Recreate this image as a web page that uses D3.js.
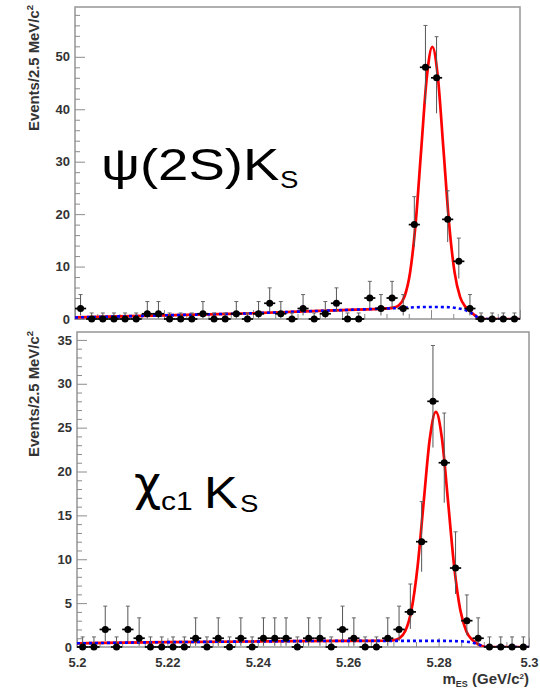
<!DOCTYPE html>
<html>
<head>
<meta charset="utf-8">
<script src="https://cdn.jsdelivr.net/npm/d3@7"></script>
<style>
  html, body { margin: 0; padding: 0; background: #fff; }
  svg { display: block; }
</style>
</head>
<body>
<svg id="fig" width="540" height="688"></svg>
<script>
// m_ES bin centres (2.5 MeV bins from 5.20 to 5.30 GeV/c^2)
const massBins = [5.20125,5.20375,5.20625,5.20875,5.21125,5.21375,5.21625,5.21875,5.22125,5.22375,
                  5.22625,5.22875,5.23125,5.23375,5.23625,5.23875,5.24125,5.24375,5.24625,5.24875,
                  5.25125,5.25375,5.25625,5.25875,5.26125,5.26375,5.26625,5.26875,5.27125,5.27375,
                  5.27625,5.27875,5.28125,5.28375,5.28625,5.28875,5.29125,5.29375,5.29625,5.29875];

// Events per bin
const psiCounts = [2,0,0,0,0,0,1,1,0,0, 0,1,0,0,1,0,1,3,1,0, 2,0,1,3,0,0,4,2,4,2, 18,48,46,19,11,2,0,0,0,0];
const chiCounts = [0,0,2,0,2,1,0,0,0,0, 1,0,1,0,1,0,1,1,1,0, 1,1,0,2,1,0,0,1,2,4, 12,28,21,9,3,1,0,0,0,0];

// Fit curves: total (signal + background) and background-only, psi(2S) Ks
const psiFitMass = [5.200,5.210,5.220,5.230,5.240,5.250,5.260,5.2703,5.27155,5.2728,5.27405,5.2753,5.27655,
                    5.2778,5.27905,5.2803,5.28155,5.2828,5.28405,5.2853,5.28655,5.2878,5.28905,5.2903,5.2908,5.2911,5.300];
const psiFitVal  = [0.3,0.5,0.7,0.9,1.1,1.4,1.7,2.03,2.16,2.63,4.30,8.87,18.30,
                    32.31,46.04,51.9,46.05,32.34,18.34,8.89,4.18,2.27,1.26,0.42,0.1,0,0];
const psiBkgMass = [5.200,5.210,5.220,5.230,5.240,5.250,5.260,5.270,5.280,5.284,5.286,5.2875,5.2885,5.2895,5.2903,5.2908,5.2911,5.300];
const psiBkgVal  = [0.3,0.5,0.7,0.9,1.1,1.4,1.7,2.0,2.3,2.25,2.05,1.75,1.4,0.9,0.4,0.1,0,0];

// Fit curves, chi_c1 Ks
const chiFitMass = [5.200,5.220,5.240,5.260,5.2686,5.26995,5.2713,5.27265,5.274,5.27535,5.2767,5.27805,
                    5.2794,5.28075,5.2821,5.28345,5.2848,5.28615,5.2875,5.28885,5.2902,5.2906,5.300];
const chiFitVal  = [0.42,0.55,0.63,0.7,0.71,0.76,0.99,1.85,4.23,9.17,16.53,23.73,
                    26.8,23.73,16.53,9.17,4.21,1.77,0.79,0.28,0.01,0,0];
const chiBkgMass = [5.200,5.220,5.240,5.260,5.280,5.285,5.287,5.288,5.289,5.2897,5.2903,5.300];
const chiBkgVal  = [0.42,0.55,0.63,0.7,0.7,0.65,0.55,0.42,0.25,0.1,0,0];

// Axis ticks and labels
const massTicks = [5.2, 5.22, 5.24, 5.26, 5.28, 5.3];
const massTickLabels = ["5.2", "5.22", "5.24", "5.26", "5.28", "5.3"];
const massMinorTicks = [5.205,5.21,5.215,5.225,5.23,5.235,5.245,5.25,5.255,5.265,5.27,5.275,5.285,5.29,5.295];
const psiYTicks = [0, 10, 20, 30, 40, 50];
const chiYTicks = [0, 5, 10, 15, 20, 25, 30, 35];

const BIN_HALF = 0.00125;
const FONT = "'Liberation Sans', Arial, Helvetica, sans-serif";

// 68% Poisson interval (Gehrels approximation; empty bins get the one-sided 1.148 limit)
function poissonInterval(n) {
  if (n === 0) return [0, 1.148];
  return [Math.max(0, n - Math.sqrt(n - 0.25)), n + Math.sqrt(n + 0.75) + 1];
}

const svg = d3.select("#fig");

const panels = [
  { id: "psi", counts: psiCounts, fitM: psiFitMass, fitV: psiFitVal, bkgM: psiBkgMass, bkgV: psiBkgVal,
    left: 75, right: 520, top: 7, bottom: 319, yMax: 59.5, yTicks: psiYTicks, yMinorStep: 2,
    xLabels: false, titleEnd: 5 },
  { id: "chi", counts: chiCounts, fitM: chiFitMass, fitV: chiFitVal, bkgM: chiBkgMass, bkgV: chiBkgVal,
    left: 77, right: 529, top: 332, bottom: 647, yMax: 35.9, yTicks: chiYTicks, yMinorStep: 1,
    xLabels: true, titleEnd: 331 }
];

panels.forEach(p => {
  const x = d3.scaleLinear().domain([5.2, 5.3]).range([p.left, p.right]);
  const y = d3.scaleLinear().domain([0, p.yMax]).range([p.bottom, p.top]);
  const g = svg.append("g");

  g.append("clipPath").attr("id", "clip-" + p.id)
    .append("rect").attr("x", p.left).attr("y", p.top)
    .attr("width", p.right - p.left).attr("height", p.bottom - p.top);

  // frame
  g.append("rect")
    .attr("x", p.left).attr("y", p.top)
    .attr("width", p.right - p.left).attr("height", p.bottom - p.top)
    .attr("fill", "none").attr("stroke", "#9c9c9c").attr("stroke-width", 1.6);

  // y axis: major ticks with labels, minor ticks
  const yMinor = d3.range(0, p.yMax, p.yMinorStep).filter(v => !p.yTicks.includes(v));
  g.append("g").attr("transform", `translate(${p.left},0)`)
    .call(d3.axisLeft(y).tickValues(yMinor).tickSize(-5).tickFormat(""))
    .call(a => a.select(".domain").remove())
    .call(a => a.selectAll("line").attr("stroke", "#8c8c8c"));
  g.append("g").attr("transform", `translate(${p.left},0)`)
    .call(d3.axisLeft(y).tickValues(p.yTicks).tickSize(-10).tickPadding(5).tickFormat(d3.format("d")))
    .call(a => a.select(".domain").remove())
    .call(a => a.selectAll("line").attr("stroke", "#8c8c8c"))
    .call(a => a.selectAll("text")
      .attr("font-family", FONT).attr("font-weight", "bold").attr("font-size", 13).attr("fill", "#333"));

  // x axis: ticks point into the frame
  g.append("g").attr("transform", `translate(0,${p.bottom})`)
    .call(d3.axisBottom(x).tickValues(massMinorTicks).tickSize(-5).tickFormat(""))
    .call(a => a.select(".domain").remove())
    .call(a => a.selectAll("line").attr("stroke", "#8c8c8c"));
  g.append("g").attr("transform", `translate(0,${p.bottom})`)
    .call(d3.axisBottom(x).tickValues(massTicks).tickSize(-9).tickPadding(10.5)
      .tickFormat((d, i) => p.xLabels ? massTickLabels[i] : ""))
    .call(a => a.select(".domain").remove())
    .call(a => a.selectAll("line").attr("stroke", "#8c8c8c"))
    .call(a => a.selectAll("text")
      .attr("font-family", FONT).attr("font-weight", "bold").attr("font-size", 13).attr("fill", "#333"));

  // y title
  const yt = g.append("text")
    .attr("transform", `translate(39,${p.titleEnd}) rotate(-90)`)
    .attr("text-anchor", "end")
    .attr("font-family", FONT).attr("font-weight", "bold").attr("font-size", 14).attr("fill", "#333")
    .attr("textLength", 126).attr("lengthAdjust", "spacingAndGlyphs");
  yt.append("tspan").text("Events/2.5 MeV/c");
  yt.append("tspan").attr("font-size", 9).attr("dy", -6).text("2");

  // fit curves
  const line = d3.line().x(d => x(d[0])).y(d => y(d[1])).curve(d3.curveMonotoneX);
  const curves = g.append("g").attr("clip-path", `url(#clip-${p.id})`);
  curves.append("path")
    .attr("d", line(d3.zip(p.fitM, p.fitV)))
    .attr("fill", "none").attr("stroke", "#ff0000").attr("stroke-width", 2.7);
  curves.append("path")
    .attr("d", line(d3.zip(p.bkgM, p.bkgV)))
    .attr("fill", "none").attr("stroke", "#0000ff").attr("stroke-width", 2.6)
    .attr("stroke-dasharray", "3,3");

  // data points with Poisson error bars
  const pts = g.append("g").selectAll("g")
    .data(massBins.map((m, i) => ({ m, n: p.counts[i], e: poissonInterval(p.counts[i]) })))
    .join("g");
  pts.append("line")
    .attr("x1", d => x(d.m)).attr("x2", d => x(d.m))
    .attr("y1", d => y(d.e[0])).attr("y2", d => y(d.e[1]))
    .attr("stroke", "#555").attr("stroke-width", 1);
  pts.append("line")
    .attr("x1", d => x(d.m) - 2).attr("x2", d => x(d.m) + 2)
    .attr("y1", d => y(d.e[1])).attr("y2", d => y(d.e[1]))
    .attr("stroke", "#666").attr("stroke-width", 1);
  pts.append("line")
    .attr("x1", d => x(d.m - BIN_HALF)).attr("x2", d => x(d.m + BIN_HALF))
    .attr("y1", d => y(d.n)).attr("y2", d => y(d.n))
    .attr("stroke", "#000").attr("stroke-width", 1.7);
  pts.append("circle")
    .attr("cx", d => x(d.m)).attr("cy", d => y(d.n)).attr("r", 3.5)
    .attr("fill", "#000");
});

// x title
const xt = svg.append("text")
  .attr("x", 529).attr("y", 684).attr("text-anchor", "end")
  .attr("font-family", FONT).attr("font-weight", "bold").attr("font-size", 15).attr("fill", "#333");
xt.append("tspan").text("m");
xt.append("tspan").attr("font-size", 9).attr("dy", 3).text("ES");
xt.append("tspan").attr("dy", -3).text(" (GeV/c");
xt.append("tspan").attr("font-size", 8).attr("dy", -5).text("2");
xt.append("tspan").attr("dy", 5).text(")");

// decay-mode labels (glyphs widened horizontally)
function label(txt, x0, y0, size, sx, family) {
  svg.append("text")
    .attr("transform", `translate(${x0},${y0}) scale(${sx},1)`)
    .attr("font-family", family || FONT).attr("font-size", size).attr("fill", "#000")
    .text(txt);
}
label("ψ(2S)K", 101, 180, 44, 1.24);
label("S", 280, 188, 23, 1.2);

label("χ", 134, 500, 48, 0.98, "'DejaVu Sans', sans-serif");
label("c1", 161, 510, 26, 1.15);
label("K", 204, 508, 44, 1.15);
label("S", 240, 512, 23, 1.2);
</script>
</body>
</html>
